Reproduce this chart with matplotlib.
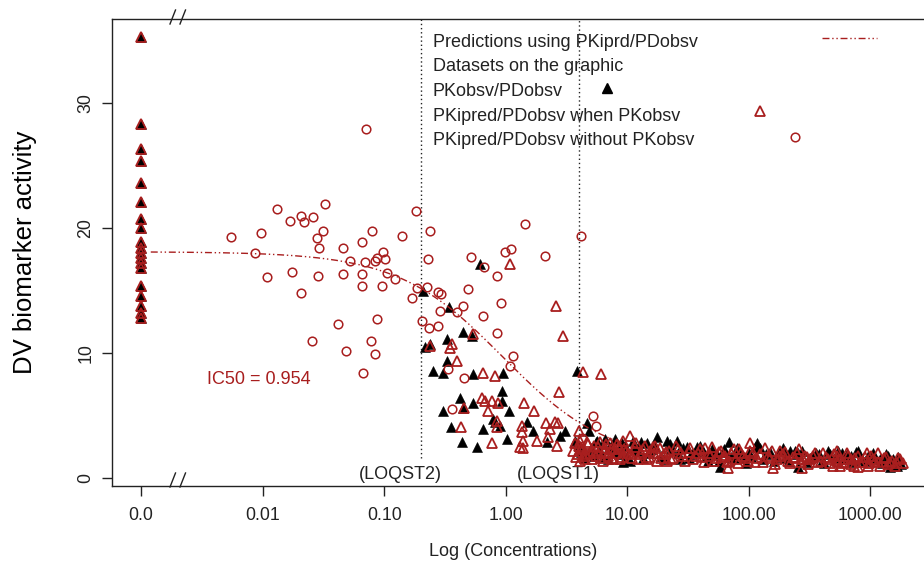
import matplotlib
matplotlib.use("Agg")
import matplotlib.pyplot as plt
from matplotlib.lines import Line2D
from matplotlib.ticker import NullLocator
import numpy as np

plt.rcParams['font.family'] = ['Liberation Sans', 'DejaVu Sans']

# response at time zero (no drug): drawn at the "0.0" position
time0_dv = [35.3, 28.3, 26.3, 25.4, 23.6, 22.1, 20.7, 20.0, 18.9, 18.4,
            18.0, 17.6, 17.2, 16.8, 15.4, 14.6, 13.8, 13.2, 12.8]

# PKobsv/PDobsv
obs_conc = [0.614, 0.210, 0.341, 0.448, 0.525, 0.217, 0.238, 0.327, 0.327, 0.254,
            0.303, 0.541, 0.955, 3.84, 0.927, 0.421, 0.927, 0.541, 0.303, 0.448,
            1.07, 0.782, 0.352, 0.654, 0.898, 1.49, 1.69, 3.08, 4.64, 0.434,
            0.577, 1.03, 2.80, 2.17, 4.85, 0.817,
            5.61, 6.56, 7.94, 9.59, 11.2, 14.5, 17.7, 21.4, 25.5, 30.9,
            37.3, 49.5, 69.2, 116, 124, 181, 219, 256, 340, 452,
            641, 764, 964, 1409, 1652, 1455, 58.1, 256, 10.5,
            3.7, 4.2, 4.4, 5.0, 5.3, 6.0, 6.9, 7.4, 8.5, 9.2,
            12, 13.5, 16, 19, 23, 27, 34, 42, 46, 55,
            63, 76, 85, 95, 105, 140, 160, 200, 240, 300,
            380, 420, 520, 580, 720, 850, 1100, 1250, 1550, 1800,
            4.0, 4.8, 5.5, 6.3, 7.1, 8.0, 9.0, 10, 11.5, 13,
            15, 17, 20, 22.5, 26, 29, 32, 36, 40, 45,
            50, 57, 64, 72, 80, 90, 100, 112, 130, 150,
            170, 190, 215, 245, 275, 320, 360, 400, 470, 540,
            620, 700, 800, 900, 1050, 1200, 1350, 1500, 1700]
obs_dv = [17.1, 15.0, 13.7, 11.7, 11.4, 10.5, 10.7, 11.1, 9.4, 8.6,
          8.4, 8.3, 8.4, 8.6, 7.0, 6.4, 6.2, 6.0, 5.4, 5.6,
          5.4, 4.7, 4.1, 3.9, 4.2, 4.5, 3.8, 3.8, 4.4, 2.9,
          2.5, 3.1, 3.4, 2.9, 3.8, 4.5,
          3.0, 3.1, 3.1, 2.6, 3.0, 2.8, 3.3, 3.0, 3.0, 2.5,
          2.5, 2.1, 2.9, 2.8, 2.4, 2.2, 2.2, 2.0, 1.8, 2.2,
          1.9, 2.1, 1.8, 1.8, 1.0, 0.9, 0.9, 0.9, 1.4,
          3.0, 2.1, 1.6, 2.4, 1.8, 2.2, 1.5, 2.6, 1.9, 1.3,
          2.2, 1.6, 2.3, 1.8, 2.3, 1.5, 1.9, 2.2, 1.4, 1.9,
          2.3, 1.6, 2.0, 1.2, 1.7, 1.9, 1.4, 1.6, 2.2, 1.3,
          1.9, 1.2, 1.6, 2.0, 1.3, 1.5, 1.6, 1.2, 1.5, 1.1,
          2.6, 1.9, 2.9, 1.7, 2.5, 2.1, 2.8, 1.8, 2.4, 2.9,
          2.0, 2.6, 1.5, 2.7, 2.0, 2.4, 1.6, 2.1, 2.6, 1.8,
          2.3, 1.4, 2.1, 1.7, 2.4, 1.6, 2.0, 2.5, 1.5, 2.1,
          1.7, 2.4, 1.4, 1.9, 2.2, 1.6, 2.0, 1.4, 1.9, 2.2,
          1.5, 1.8, 2.2, 1.4, 2.0, 1.5, 1.9, 1.3, 1.7]

# PKipred/PDobsv when PKobsv
pred_conc = [1.08, 2.59, 2.94, 0.360, 0.348, 0.238, 0.395, 0.535, 0.647, 0.817,
             4.30, 6.05, 2.76, 1.41, 1.72, 0.634, 0.767, 0.869, 0.719, 0.456,
             0.429, 0.843, 0.843, 1.35, 1.35, 1.40, 2.15, 2.55, 2.71, 1.80,
             2.24, 2.63, 4.04, 0.767, 1.31, 1.38, 4.09, 2.32, 0.676,
             10.5, 9.29, 8.73, 16.4, 102, 67.9, 181, 530, 935, 1167,
             4.35, 21.1, 159, 300, 530, 273, 560, 798,
             3.6, 3.8, 4.0, 4.1, 4.3, 4.6, 4.8, 5.1, 5.2, 5.5,
             5.8, 6.1, 6.4, 6.7, 7.0, 7.3, 7.7, 8.1, 8.6, 9.0,
             9.8, 10.8, 11.5, 12.3, 13, 14, 15, 16.5, 17.5, 18.5,
             20, 22, 24, 26, 29, 32, 35, 38, 41, 44,
             48, 52, 57, 61, 66, 72, 78, 83, 90, 98,
             108, 118, 130, 145, 155, 170, 190, 210, 230, 250,
             270, 290, 320, 350, 390, 430, 470, 500, 560, 610,
             660, 700, 750, 820, 900, 980, 1050, 1150, 1300, 1400,
             1500, 1650, 1750,
             3.7, 3.9, 4.2, 4.5, 4.7, 4.9, 5.3, 5.7, 6.0, 6.3,
             6.6, 6.9, 7.2, 7.5, 7.9, 8.3, 8.8, 9.4, 10.2, 11.0,
             11.9, 12.8, 13.6, 14.5, 15.5, 17, 19, 21, 23, 25,
             27.5, 30, 33, 36.5, 40, 43, 47, 50, 54, 59,
             64, 69, 75, 81, 87, 94, 102, 112, 124, 137,
             150, 165, 180, 200, 220, 240, 260, 280, 310, 340,
             370, 410, 450, 490, 530, 590, 640, 690, 740, 800,
             870, 950, 1020, 1100, 1200, 1350, 1450, 1600, 1700, 1850]
pred_dv = [17.1, 13.8, 11.4, 10.7, 10.4, 10.6, 9.4, 11.5, 8.4, 8.2,
           8.5, 8.3, 6.9, 6.0, 5.4, 6.4, 6.2, 6.0, 5.4, 5.6,
           4.1, 4.6, 4.1, 4.2, 3.7, 3.0, 4.4, 4.5, 4.4, 3.0,
           3.3, 2.6, 3.8, 2.8, 2.5, 2.4, 3.0, 3.9, 6.2,
           3.4, 3.0, 2.4, 2.5, 2.8, 0.8, 2.2, 2.2, 2.0, 2.0,
           1.8, 1.4, 0.8, 1.7, 1.4, 0.8, 1.0, 0.9,
           2.2, 1.7, 2.6, 1.4, 2.3, 1.9, 2.7, 1.5, 2.2, 1.8,
           2.5, 1.6, 2.1, 2.7, 1.8, 2.3, 1.5, 2.0, 2.6, 1.7,
           2.2, 1.9, 2.5, 1.5, 2.1, 2.6, 1.7, 2.0, 1.4, 2.4,
           1.9, 2.2, 1.6, 2.3, 1.8, 2.1, 1.5, 2.0, 1.7, 2.4,
           1.8, 1.4, 2.1, 1.7, 1.3, 2.0, 1.5, 2.3, 1.8, 1.4,
           2.0, 1.6, 1.3, 1.8, 2.2, 1.5, 1.9, 1.4, 1.7, 2.0,
           1.3, 1.8, 1.5, 2.0, 1.4, 1.7, 1.2, 1.9, 1.5, 1.3,
           1.8, 1.1, 1.6, 1.3, 1.7, 1.2, 1.5, 1.3, 1.6, 1.1,
           1.4, 1.2, 1.5,
           2.8, 1.9, 2.4, 1.5, 2.9, 2.0, 2.6, 2.0, 2.9, 1.4,
           2.4, 2.0, 2.8, 1.6, 2.3, 2.7, 1.5, 2.3, 2.0, 1.6,
           2.8, 1.9, 2.3, 1.5, 2.2, 2.6, 1.6, 2.1, 1.5, 2.6,
           2.0, 1.4, 2.4, 1.8, 2.3, 1.3, 2.0, 2.5, 1.6, 2.2,
           1.8, 1.4, 2.3, 1.2, 2.0, 1.6, 2.2, 1.3, 1.9, 2.4,
           1.6, 1.1, 1.8, 2.1, 1.2, 1.6, 2.3, 1.5, 1.1, 1.8,
           1.3, 2.0, 1.5, 1.0, 1.8, 1.2, 2.0, 1.5, 1.0, 1.8,
           1.3, 1.0, 1.8, 1.4, 1.0, 1.7, 1.3, 1.0, 1.6, 1.2]

# PKipred/PDobsv without PKobsv
nopk_conc = [0.00548, 0.00968, 0.0132, 0.0168, 0.0206, 0.0219, 0.0261, 0.0326, 0.0315, 0.0278,
             0.0292, 0.0461, 0.0653, 0.0798, 0.139, 0.182, 0.238, 0.00865, 0.0108, 0.0173,
             0.0287, 0.0461, 0.0523, 0.0653, 0.0695, 0.0840, 0.0868, 0.0983, 0.1016, 0.105,
             0.1227, 0.0653, 0.0953, 0.0207, 0.0414, 0.0868, 0.0256, 0.0482, 0.0774, 0.0840,
             0.0673, 0.228, 0.168, 0.187, 0.224, 0.279, 0.292, 0.204, 0.235, 0.279,
             0.288, 0.395, 0.448, 0.492, 0.515, 0.333, 0.456, 0.0708, 1.44, 4.14,
             0.987, 1.10, 2.12, 0.663, 0.843, 0.910, 0.654, 0.843, 1.155, 1.085,
             0.363, 5.26, 5.53, 4.22]
nopk_dv = [19.3, 19.6, 21.5, 20.6, 21.0, 20.5, 20.9, 21.9, 19.8, 19.2,
           18.4, 18.4, 18.9, 19.8, 19.4, 21.4, 19.8, 18.0, 16.1, 16.5,
           16.2, 16.3, 17.4, 16.3, 17.3, 17.4, 17.6, 18.1, 17.5, 16.4,
           15.9, 15.4, 15.4, 14.8, 12.3, 12.7, 11.0, 10.2, 11.0, 9.9,
           8.4, 17.5, 14.4, 15.2, 15.3, 14.9, 14.7, 12.6, 12.0, 12.2,
           13.4, 13.3, 13.8, 15.1, 17.7, 8.7, 8.0, 27.9, 20.3, 19.4,
           18.1, 18.3, 17.8, 16.9, 16.2, 14.0, 13.0, 11.6, 9.8, 9.0,
           5.5, 5.0, 4.2, 3.2]

# fitted inhibitory Emax model
e0 = 18.1
emin = 1.2
ic50 = 0.954
hill = 1.0

loqst2 = 0.2
loqst1 = 4.0

tick_pos = [0.001, 0.01, 0.1, 1, 10, 100, 1000]
tick_labels = ["0.0", "0.01", "0.10", "1.00", "10.00", "100.00", "1000.00"]
zero_pos = 0.001  # where concentration 0 sits on the log axis

red = '#A81E1E'
W, H = 924, 565


def fx(px):
    return px / W


def fy(py):
    return 1 - py / H


fig = plt.figure(figsize=(W / 100, H / 100), dpi=100)
ax = fig.add_axes([fx(112), fy(486), (940 - 112) / W, (486 - 19) / H])
ax.set_xscale('log')
ax.set_xlim(10 ** -3.24, 10 ** 3.574)
ax.set_ylim(-0.64, 36.72)

zero_x = np.full(len(time0_dv), zero_pos)

# observed PK: filled black triangles
ax.plot(np.concatenate([zero_x, obs_conc]), np.concatenate([time0_dv, obs_dv]),
        ls='none', marker='^', ms=7.8, mfc='black', mec='black', mew=0.4, zorder=3)
# individual predicted PK: open red triangles
ax.plot(np.concatenate([zero_x, pred_conc]), np.concatenate([time0_dv, pred_dv]),
        ls='none', marker='^', ms=7.4, mfc='none', mec=red, mew=1.3, zorder=4)
ax.plot(nopk_conc, nopk_dv, ls='none', marker='o', ms=6.2, mfc='none',
        mec=red, mew=1.1, zorder=5)

cc = np.geomspace(0.0012, 2000, 400)
ax.plot(cc, e0 - (e0 - emin) * cc ** hill / (ic50 ** hill + cc ** hill),
        color=red, lw=1, dashes=(5, 2, 1, 2, 1, 2), zorder=6)

# limits of quantification
ax.plot([loqst2, loqst2], [1.6, 36.72], color='#222222', lw=1, dashes=(1, 2), zorder=2)
ax.plot([loqst1, loqst1], [2.5, 36.72], color='#222222', lw=1, dashes=(1, 2), zorder=2)
ax.text(0.135, 0.25, "(LOQST2)", ha='center', va='center', fontsize=13, color='#222222')
ax.text(2.72, 0.25, "(LOQST1)", ha='center', va='center', fontsize=13, color='#222222')

ax.text(0.00348, 7.84, "IC50 = 0.954", ha='left', va='center', fontsize=13, color=red)

ax.set_xticks(tick_pos)
ax.set_xticklabels(tick_labels)
ax.xaxis.set_minor_locator(NullLocator())
ax.set_yticks([0, 10, 20, 30])
ax.tick_params(axis='both', length=7, width=1, colors='#222222', labelsize=12.8)
ax.tick_params(axis='x', pad=8)
ax.tick_params(axis='y', pad=5.7, labelrotation=90)
plt.setp(ax.get_yticklabels(), va='center')
for side in ('left', 'top', 'bottom'):
    ax.spines[side].set_linewidth(1)
    ax.spines[side].set_color('#222222')
ax.spines['right'].set_visible(False)

fig.text(fx(513), fy(551), "Log (Concentrations)", ha='center', va='center',
         fontsize=13, color='#222222')
fig.text(fx(25), fy(252), "DV biomarker activity", ha='center', va='center',
         rotation=90, fontsize=18.5, color='black')

# axis break marks
for y0, y1 in ((24, 10), (487, 473)):
    for x0 in (170, 180):
        fig.add_artist(Line2D([fx(x0), fx(x0 + 5.5)], [fy(y0), fy(y1)],
                              color='#222222', lw=1))

# legend
legend_rows = ["Predictions using PKiprd/PDobsv", "Datasets on the graphic",
               "PKobsv/PDobsv", "PKipred/PDobsv when PKobsv",
               "PKipred/PDobsv without PKobsv"]
for i, row in enumerate(legend_rows):
    fig.text(fx(433), fy(46.7 + 24.6 * i), row, ha='left', va='baseline',
             fontsize=13, color='#222222')
fig.add_artist(Line2D([fx(822), fx(877)], [fy(38), fy(38)], color=red, lw=1,
                      dashes=(5, 2, 1, 2, 1, 2)))
fig.add_artist(Line2D([fx(607)], [fy(88)], ls='none', marker='^', ms=7.8,
                      mfc='black', mec='black'))
fig.add_artist(Line2D([fx(760)], [fy(111)], ls='none', marker='^', ms=7.4,
                      mfc='none', mec=red, mew=1.3))
fig.add_artist(Line2D([fx(795)], [fy(136.5)], ls='none', marker='o', ms=6.2,
                      mfc='none', mec=red, mew=1.1))

fig.savefig("out.png", dpi=100)
